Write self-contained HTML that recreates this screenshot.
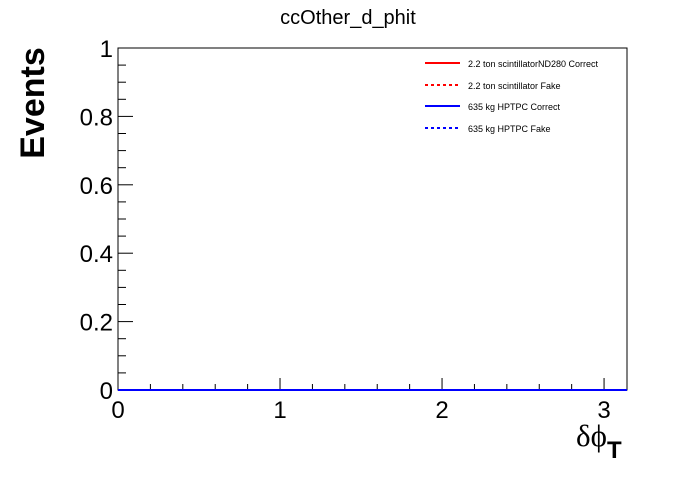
<!DOCTYPE html>
<html><head><meta charset="utf-8"><style>
body{margin:0;background:#fff;width:696px;height:472px;overflow:hidden}
svg{font-family:"Liberation Sans",sans-serif}
</style></head><body>
<svg id="c" width="696" height="472">
<text x="348" y="24" text-anchor="middle" font-size="20">ccOther_d_phit</text>
<text transform="translate(44,103) rotate(-90)" text-anchor="middle" font-size="34" font-weight="bold">Events</text>
<text x="576" y="446" font-size="31" font-family="Liberation Serif, serif">δϕ<tspan font-size="24" font-weight="bold" font-family="Liberation Sans, sans-serif" dy="12">T</tspan></text>
<rect x="118" y="48" width="509" height="342" fill="none" stroke="#000" stroke-width="1"/>
<g id="axes"></g>
<g id="series"></g>
<g>
<line x1="425" y1="63" x2="460" y2="63" stroke="#f00" stroke-width="2"/>
<text x="468" y="67" font-size="9">2.2 ton scintillatorND280 Correct</text>
<line x1="425" y1="85" x2="460" y2="85" stroke="#f00" stroke-width="2" stroke-dasharray="3,3"/>
<text x="468" y="89" font-size="9">2.2 ton scintillator Fake</text>
<line x1="425" y1="106" x2="460" y2="106" stroke="#00f" stroke-width="2"/>
<text x="468" y="110" font-size="9">635 kg HPTPC Correct</text>
<line x1="425" y1="128" x2="460" y2="128" stroke="#00f" stroke-width="2" stroke-dasharray="3,3"/>
<text x="468" y="132" font-size="9">635 kg HPTPC Fake</text>
</g>
</svg>
<script>
const xTicks=[0,1,2,3];
const yTicks=[0,0.2,0.4,0.6,0.8,1];
const yTickLabels=["0","0.2","0.4","0.6","0.8","1"];
const binEdges=[0,0.3142,0.6283,0.9425,1.2566,1.5708,1.885,2.1991,2.5133,2.8274,3.1416];
const scintCorrect=[0,0,0,0,0,0,0,0,0,0];
const scintFake=[0,0,0,0,0,0,0,0,0,0];
const hptpcCorrect=[0,0,0,0,0,0,0,0,0,0];
const hptpcFake=[0,0,0,0,0,0,0,0,0,0];
const X0=118,X1=627,Y0=390,Y1=48,XMAX=3.1416,YMAX=1;
function sx(v){return X0+v/XMAX*(X1-X0);}
function sy(v){return Y0-v/YMAX*(Y0-Y1);}
const NS="http://www.w3.org/2000/svg";
const ax=document.getElementById('axes'),se=document.getElementById('series');
function mk(t,a,p){const e=document.createElementNS(NS,t);for(const k in a)e.setAttribute(k,a[k]);p.appendChild(e);return e;}
for(let v=0;v<=XMAX+1e-9;v+=0.2){const x=sx(v);const maj=Math.abs(v-Math.round(v))<1e-6;
 const l=mk('line',{x1:x,x2:x,y1:Y0,y2:Y0-(maj?12:6),stroke:'#000'},ax);
 
 }
xTicks.forEach(v=>{const t=mk('text',{x:sx(v),y:Y0+28,'text-anchor':'middle','font-size':24},ax);t.textContent=v;
 
 });
for(let v=0;v<=YMAX+1e-9;v+=0.05){const y=sy(v);const maj=Math.abs(v/0.2-Math.round(v/0.2))<1e-6;
 const l=mk('line',{x1:X0,x2:X0+(maj?15:8),y1:y,y2:y,stroke:'#000'},ax);
 
 }
yTicks.forEach((v,i)=>{const t=mk('text',{x:X0-5,y:sy(v)+9,'text-anchor':'end','font-size':24},ax);t.textContent=yTickLabels[i];
 
 });
function hist(vals,color,dash,name){let d='';vals.forEach((v,i)=>{d+=(i?'L':'M')+sx(binEdges[i])+','+sy(v)+'L'+sx(binEdges[i+1])+','+sy(v);});
 const p=mk('path',{d:d,fill:'none',stroke:color,'stroke-width':2,'stroke-dasharray':dash},se);
 
 }
hist(scintCorrect,'#f00','none','series-scint-correct');
hist(scintFake,'#f00','3,3','series-scint-fake');
hist(hptpcFake,'#00f','3,3','series-hptpc-fake');
hist(hptpcCorrect,'#00f','none','series-hptpc-correct');
</script>
</body></html>
